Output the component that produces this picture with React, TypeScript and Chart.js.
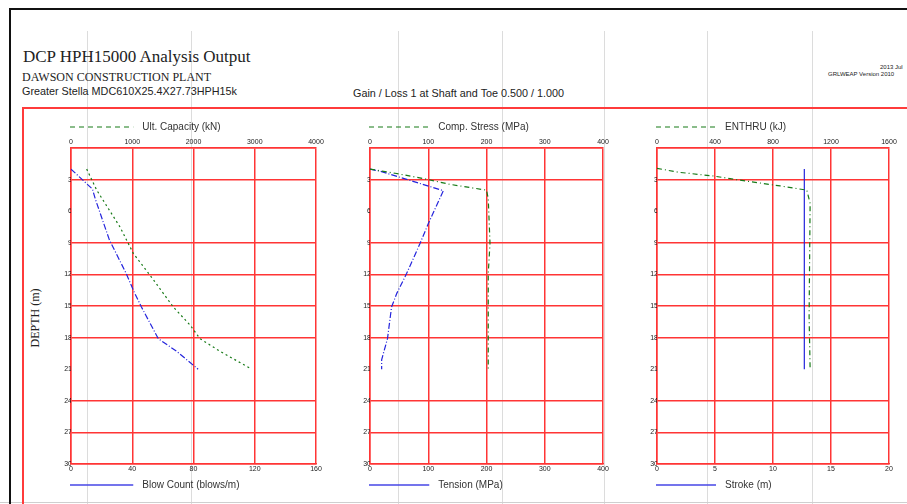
import React, { useEffect, useRef } from 'react';
import { Chart, registerables } from 'chart.js';

Chart.register(...registerables);

// ---------- data ----------
const depthMax = 30;
const depthStep = 3;
const hiddenGridDepths = [6, 21];

const capacityDepth = [2.0, 4.0, 7.5, 10.0, 12.5, 15.1, 16.8, 18.1, 19.3, 21.0];
const capacity = [256, 420, 800, 1017, 1344, 1671, 1943, 2106, 2433, 2950];
const blowDepth = [2.0, 3.9, 4.9, 8.7, 11.9, 13.6, 15.1, 18.1, 19.3, 21.0];
const blowCount = [0, 14, 16, 25, 36, 41, 46, 57, 69, 83];

const stressDepth = [2.0, 2.4, 2.9, 3.45, 4.0, 4.8, 9.05, 11.9, 21.0];
const compStress = [0, 43, 92, 137, 200, 203, 206, 203, 203];
const tensionDepth = [2.0, 2.2, 4.05, 7.2, 9.05, 11.9, 13.8, 15.1, 18.1, 20.1, 21.0];
const tension = [0, 17, 126, 100, 86, 63, 46, 37, 30, 20, 20];

const enthruDepth = [1.93, 2.3, 2.66, 3.1, 3.6, 4.0, 5.25, 16.0, 21.0];
const enthru = [0, 147, 389, 596, 849, 1033, 1056, 1049, 1056];
const strokeDepth = [2.0, 21.0];
const stroke = [12.7, 12.7];

// ---------- styles ----------
const RED = '#ff3535';
const GREEN = '#177a17';
const BLUE = '#2424dc';
const SANS = '"Liberation Sans", Arial, sans-serif';
const SERIF = '"Liberation Serif", "Times New Roman", serif';

Chart.defaults.font.family = SANS;

const zip = (xs: number[], ys: number[]) => xs.map((x, i) => ({ x, y: ys[i] }));

const legendPlugin = {
  id: 'panelLegend',
  afterDraw(chart: any, _args: any, opts: any) {
    const { ctx, chartArea } = chart;
    const w = chartArea.right - chartArea.left;
    const x0 = chartArea.left - 1;
    const x1 = chartArea.left + w * 0.25 + 1;
    const tx = chartArea.left + w * 0.25 + 10;
    ctx.save();
    ctx.font = '10px ' + SANS;
    ctx.textBaseline = 'middle';
    ctx.textAlign = 'left';
    // top legend
    let y = chartArea.top - 21;
    ctx.strokeStyle = GREEN;
    ctx.lineWidth = 1.2;
    ctx.setLineDash([5, 4]);
    ctx.beginPath();
    ctx.moveTo(x0, y);
    ctx.lineTo(x1, y);
    ctx.stroke();
    ctx.fillStyle = '#333';
    ctx.fillText(opts.top, tx, y);
    // bottom legend
    y = chartArea.bottom + 21;
    ctx.strokeStyle = '#4646e6';
    ctx.lineWidth = 1.5;
    ctx.setLineDash([]);
    ctx.beginPath();
    ctx.moveTo(x0, y);
    ctx.lineTo(x1, y);
    ctx.stroke();
    ctx.fillText(opts.bottom, tx, y);
    ctx.restore();
  },
};

type PanelProps = {
  canvasLeft: number;
  areaWidth: number;
  rightPad: number;
  topLabel: string;
  botLabel: string;
  topMax: number;
  botMax: number;
  topX: number[];
  topDepth: number[];
  botX: number[];
  botDepth: number[];
  topDash: number[];
  botDash: number[];
};

function Panel(p: PanelProps) {
  const ref = useRef<HTMLCanvasElement>(null);
  const canvasWidth = 30 + p.areaWidth + p.rightPad;
  useEffect(() => {
    const tickFont = { size: 7, family: SANS };
    const plain = (v: any) => String(v);
    const chart = new Chart(ref.current as HTMLCanvasElement, {
      type: 'scatter',
      data: {
        datasets: [
          {
            label: p.topLabel,
            data: zip(p.topX, p.topDepth),
            xAxisID: 'xt',
            yAxisID: 'y',
            showLine: true,
            borderColor: GREEN,
            backgroundColor: GREEN,
            borderWidth: 1.2,
            borderDash: p.topDash,
            pointRadius: 0,
            fill: false,
          },
          {
            label: p.botLabel,
            data: zip(p.botX, p.botDepth),
            xAxisID: 'xb',
            yAxisID: 'y',
            showLine: true,
            borderColor: BLUE,
            backgroundColor: BLUE,
            borderWidth: 1.2,
            borderDash: p.botDash,
            pointRadius: 0,
            fill: false,
          },
        ],
      },
      options: {
        animation: false,
        responsive: false,
        layout: { padding: { left: 0, right: p.rightPad, top: 0, bottom: 0 } },
        plugins: {
          legend: { display: false },
          tooltip: { enabled: false },
          panelLegend: { top: p.topLabel, bottom: p.botLabel },
        } as any,
        scales: {
          xt: {
            type: 'linear',
            position: 'top',
            min: 0,
            max: p.topMax,
            ticks: { stepSize: p.topMax / 4, autoSkip: false, maxRotation: 0, padding: 2, font: tickFont, color: '#222', callback: plain },
            grid: { color: RED, lineWidth: 1.5, drawTicks: false },
            border: { color: RED, width: 1.5 },
            afterFit: (s: any) => { s.height = 36; },
          },
          xb: {
            type: 'linear',
            position: 'bottom',
            min: 0,
            max: p.botMax,
            ticks: { stepSize: p.botMax / 4, autoSkip: false, maxRotation: 0, padding: 1, font: tickFont, color: '#222', callback: plain },
            grid: { display: false, drawTicks: false },
            border: { color: RED, width: 1.5 },
            afterFit: (s: any) => { s.height = 38; },
          },
          y: {
            type: 'linear',
            reverse: true,
            min: 0,
            max: depthMax,
            ticks: {
              stepSize: depthStep,
              autoSkip: false,
              padding: -1,
              font: tickFont,
              color: '#222',
              callback: (v: any) => (v === 0 ? '' : String(v)),
            },
            grid: {
              color: (c: any) => (c.tick && hiddenGridDepths.includes(c.tick.value) ? 'rgba(0,0,0,0)' : RED),
              lineWidth: 1.5,
              drawTicks: false,
            },
            border: { color: RED, width: 1.5 },
            afterFit: (s: any) => { s.width = 30; },
          },
        } as any,
      },
      plugins: [legendPlugin],
    });
    return () => chart.destroy();
  }, []);
  return (
    <canvas
      ref={ref}
      width={canvasWidth}
      height={390}
      style={{ position: 'absolute', left: p.canvasLeft, top: 112, width: canvasWidth, height: 390 }}
    />
  );
}

const grayLinesX = [87, 191, 398, 502, 604, 707, 812];

export default function App() {
  return (
    <div style={{ position: 'absolute', left: 0, top: 0, width: 907, height: 504, overflow: 'hidden', background: '#fff' }}>
      {grayLinesX.map((x) => (
        <div key={x} style={{ position: 'absolute', left: x, top: 31, width: 1, height: 480, background: '#dcdcdc' }} />
      ))}
      <div style={{ position: 'absolute', left: 0, top: 502, width: 907, height: 1, background: '#cfcfcf' }} />
      {/* black page frame */}
      <div style={{ position: 'absolute', left: 9, top: 8, width: 920, height: 520, borderTop: '2px solid #111', borderLeft: '2px solid #111' }} />
      {/* red outer box */}
      <div style={{ position: 'absolute', left: 22, top: 107, width: 920, height: 420, borderTop: '2px solid #ff3b3b', borderLeft: '2px solid #ff3b3b' }} />

      <div style={{ position: 'absolute', left: 23, top: 48, font: '17px ' + SERIF, lineHeight: '17px', color: '#222', whiteSpace: 'nowrap' }}>
        DCP HPH15000 Analysis Output
      </div>
      <div style={{ position: 'absolute', left: 22, top: 71, font: '12px ' + SERIF, lineHeight: '12px', color: '#222', whiteSpace: 'nowrap' }}>
        DAWSON CONSTRUCTION PLANT
      </div>
      <div style={{ position: 'absolute', left: 22, top: 86, font: '10.8px ' + SANS, lineHeight: '11px', color: '#222', whiteSpace: 'nowrap' }}>
        Greater Stella MDC610X25.4X27.73HPH15k
      </div>
      <div style={{ position: 'absolute', left: 353, top: 88, font: '10.8px ' + SANS, lineHeight: '11px', color: '#222', whiteSpace: 'nowrap' }}>
        Gain / Loss 1 at Shaft and Toe 0.500 / 1.000
      </div>
      <div style={{ position: 'absolute', left: 880, top: 64, font: '6px ' + SANS, lineHeight: '6px', color: '#222', whiteSpace: 'nowrap' }}>
        2013 Jul
      </div>
      <div style={{ position: 'absolute', left: 828, top: 71, font: '6px ' + SANS, lineHeight: '6px', color: '#222', whiteSpace: 'nowrap' }}>
        GRLWEAP Version 2010
      </div>
      <div
        style={{
          position: 'absolute',
          left: 35,
          top: 318,
          transform: 'translate(-50%, -50%) rotate(-90deg)',
          font: '12px ' + SERIF,
          lineHeight: '12px',
          color: '#222',
          whiteSpace: 'nowrap',
        }}
      >
        DEPTH (m)
      </div>

      <Panel
        canvasLeft={41}
        areaWidth={245}
        rightPad={14}
        topLabel="Ult. Capacity (kN)"
        botLabel="Blow Count (blows/m)"
        topMax={4000}
        botMax={160}
        topX={capacity}
        topDepth={capacityDepth}
        botX={blowCount}
        botDepth={blowDepth}
        topDash={[2, 3]}
        botDash={[6, 2, 1, 2]}
      />
      <Panel
        canvasLeft={340}
        areaWidth={233}
        rightPad={17}
        topLabel="Comp. Stress (MPa)"
        botLabel="Tension (MPa)"
        topMax={400}
        botMax={400}
        topX={compStress}
        topDepth={stressDepth}
        botX={tension}
        botDepth={tensionDepth}
        topDash={[5, 3, 1, 3]}
        botDash={[6, 2, 1, 2]}
      />
      <Panel
        canvasLeft={627}
        areaWidth={232}
        rightPad={18}
        topLabel="ENTHRU (kJ)"
        botLabel="Stroke (m)"
        topMax={1600}
        botMax={20}
        topX={enthru}
        topDepth={enthruDepth}
        botX={stroke}
        botDepth={strokeDepth}
        topDash={[5, 3, 1, 3]}
        botDash={[]}
      />
    </div>
  );
}
